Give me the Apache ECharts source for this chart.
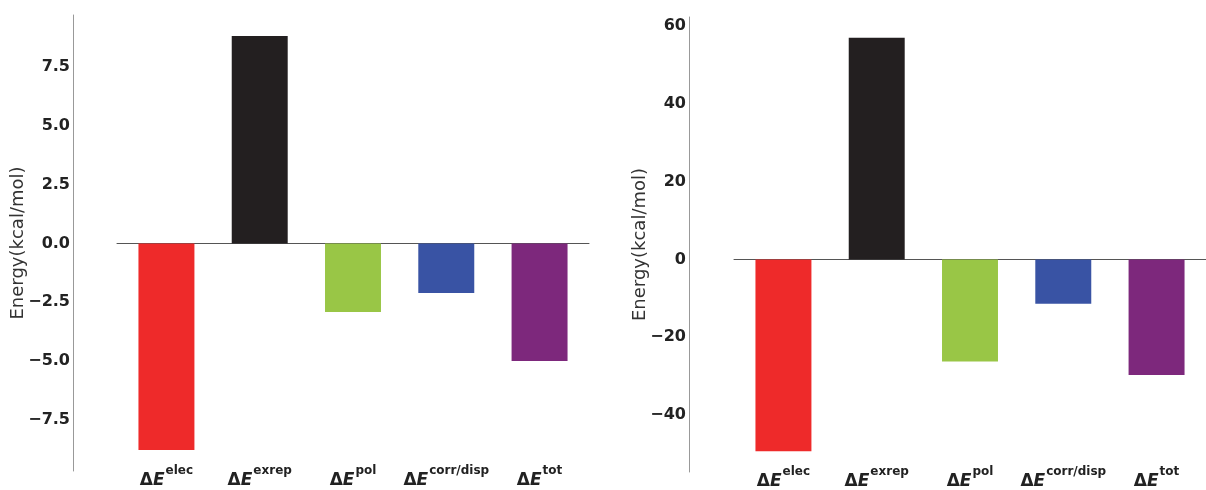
<!DOCTYPE html>
<html>
<head>
<meta charset="utf-8">
<script src="https://cdn.jsdelivr.net/npm/echarts@6/dist/echarts.min.js"></script>
<style>
html,body{margin:0;padding:0;background:#fff;}
#chart{width:1206px;height:490px;}
</style>
</head>
<body>
<div id="chart"></div>
<script>
// ---- data ----
var categories = ['elec', 'exrep', 'pol', 'corr/disp', 'tot'];
var barColors = ['#EE2A2A', '#231F20', '#99C646', '#3953A4', '#7D287C'];
var leftValues = [-8.78, 8.82, -2.91, -2.10, -4.99];
var rightValues = [-49.3, 56.95, -26.2, -11.4, -29.7];
var leftTicks = [-7.5, -5.0, -2.5, 0.0, 2.5, 5.0, 7.5];
var rightTicks = [-40, -20, 0, 20, 40, 60];
var axisName = 'Energy(kcal/mol)';

var FONT = 'DejaVu Sans';
var catIdx = [0, 1, 2, 3, 4];

function minusFmt(s) { return String(s).replace('-', '\u2212'); }

var rich = {
  d: { fontFamily: FONT, fontSize: 17, fontWeight: 'bold', color: '#222', lineHeight: 24, verticalAlign: 'bottom' },
  e: { fontFamily: FONT, fontSize: 17, fontWeight: 'bold', fontStyle: 'italic', color: '#222', lineHeight: 24, verticalAlign: 'bottom' },
  s: { fontFamily: FONT, fontSize: 12, fontWeight: 'bold', color: '#222', lineHeight: 14, verticalAlign: 'top', padding: [0, 0, 0, 1] }
};

function catLabel(v) {
  var i = Math.round(v);
  return '{d|\u0394}{e|E}{s|' + categories[i] + '}';
}

function xAxesFor(gridIndex, yIndex) {
  return [
    { // zero line
      type: 'value', gridIndex: gridIndex, min: -0.53, max: 4.53,
      axisLine: { show: true, onZero: true, onZeroAxisIndex: yIndex, lineStyle: { color: '#555', width: 1 } },
      axisTick: { show: false }, axisLabel: { show: false }, splitLine: { show: false }
    },
    { // category labels at bottom
      type: 'value', gridIndex: gridIndex, min: -0.53, max: 4.53, position: 'bottom',
      axisLine: { show: false, onZero: false },
      axisTick: { show: false }, splitLine: { show: false },
      axisLabel: { show: true, customValues: catIdx, formatter: catLabel, rich: rich, margin: -6, showMinLabel: true, showMaxLabel: true }
    }
  ];
}

function yAxisFor(gridIndex, min, max, ticks, fmt, offset, nameGap) {
  return {
    type: 'value', gridIndex: gridIndex, min: min, max: max, offset: offset,
    name: axisName, nameLocation: 'middle', nameGap: nameGap, nameMoveOverlap: false,
    nameTextStyle: { fontFamily: FONT, fontSize: 18, color: '#333' },
    axisLine: { show: true, onZero: false, lineStyle: { color: '#999', width: 1 } },
    axisTick: { show: false, customValues: ticks },
    splitLine: { show: false },
    axisLabel: { customValues: ticks, formatter: fmt, margin: 3, fontFamily: FONT, fontSize: 16, fontWeight: 'bold', color: '#222' }
  };
}

function barData(vals) {
  return vals.map(function (v, i) { return { value: [i, v], itemStyle: { color: barColors[i] } }; });
}

var chart = echarts.init(document.getElementById('chart'), null, { renderer: 'canvas' });
chart.setOption({
  animation: false,
  backgroundColor: '#fff',
  grid: [
    { left: 117, top: 15, width: 472, height: 456, containLabel: false },
    { left: 734, top: 17, width: 479, height: 460, containLabel: false }
  ],
  xAxis: xAxesFor(0, 0).concat(xAxesFor(1, 1)),
  yAxis: [
    yAxisFor(0, -9.67, 9.71, leftTicks, function (v) { return minusFmt(v.toFixed(1)); }, 44, 46),
    yAxisFor(1, -54.6, 62.3, rightTicks, function (v) { return minusFmt(Math.round(v)); }, 45, 40)
  ],
  series: [
    { type: 'bar', xAxisIndex: 0, yAxisIndex: 0, barWidth: '60%', data: barData(leftValues) },
    { type: 'bar', xAxisIndex: 2, yAxisIndex: 1, barWidth: '60%', data: barData(rightValues) }
  ]
});
</script>
</body>
</html>
